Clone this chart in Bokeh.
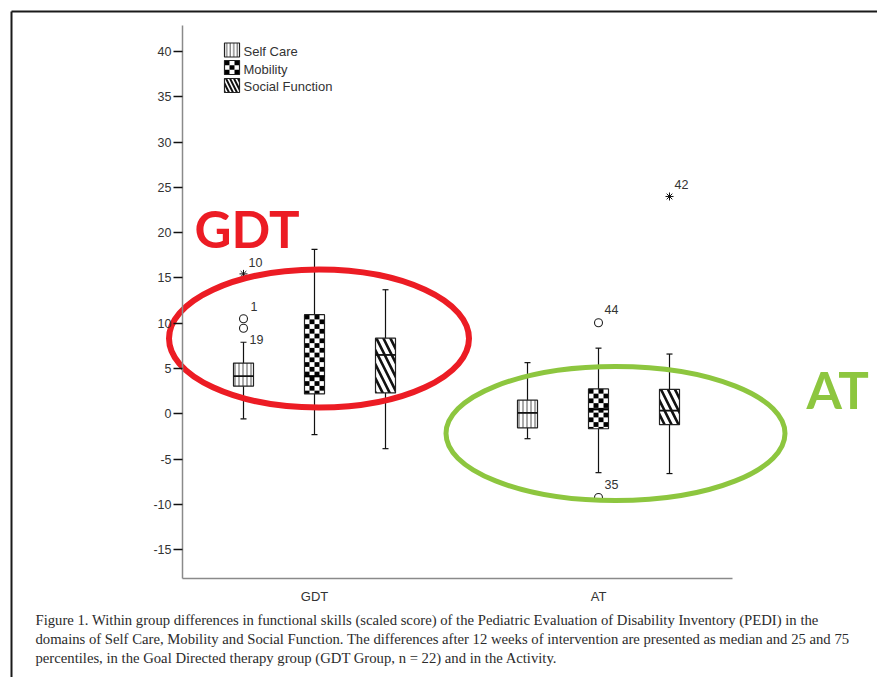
import numpy as np
from bokeh.plotting import figure
from bokeh.models import Range1d, LinearAxis, FixedTicker
from bokeh.core.properties import value
from bokeh.embed import file_html
from bokeh.resources import INLINE

# ---------------- data ----------------
groups = ["GDT", "AT"]
domains = ["Self Care", "Mobility", "Social Function"]

# change scores per group (rows) and domain (columns)
whisker_low = [[-0.55, -2.3, -3.85], [-2.75, -6.5, -6.6]]
quart_1 = [[3.05, 2.2, 2.3], [-1.55, -1.65, -1.2]]
medians = [[4.15, 4.15, 6.5], [0.1, 0.5, 0.35]]
quart_3 = [[5.6, 10.95, 8.35], [1.5, 2.75, 2.7]]
whisker_high = [[7.9, 18.15, 13.7], [5.65, 7.25, 6.6]]

# outliers (circles) and extremes (stars) with case numbers
outlier_group = ["GDT", "GDT", "AT", "AT"]
outlier_domain = ["Self Care", "Self Care", "Mobility", "Mobility"]
outlier_value = [10.5, 9.45, 10.05, -9.25]
outlier_case = ["1", "19", "44", "35"]

extreme_group = ["GDT", "AT"]
extreme_domain = ["Self Care", "Social Function"]
extreme_value = [15.45, 24.0]
extreme_case = ["10", "42"]

y_ticks = [-15, -10, -5, 0, 5, 10, 15, 20, 25, 30, 35, 40]

caption = [
    "Figure 1. Within group differences in functional skills (scaled score) of the Pediatric Evaluation of Disability Inventory (PEDI) in the",
    "domains of Self Care, Mobility and Social Function. The differences after 12 weeks of intervention are presented as median and 25 and 75",
    "percentiles, in the Goal Directed therapy group (GDT Group, n = 22) and in the Activity.",
]

# ---------------- page geometry ----------------
W, H = 877, 677
X0_PX, X_UNIT_PX = 314.0, 284.0     # group 1 centre and pixels per group step
Y0_PX, Y_UNIT_PX = 413.3, 9.055     # zero line and pixels per score point


def dx(px):
    return 1 + (px - X0_PX) / X_UNIT_PX


def dy(py):
    return (Y0_PX - py) / Y_UNIT_PX


RED = "#ec1c24"
GREEN = "#8dc63f"
INK = "#222222"
LABEL = "#333333"

p = figure(width=W, height=H,
           x_range=Range1d(dx(0), dx(W)), y_range=Range1d(dy(H), dy(0)),
           x_axis_type=None, y_axis_type=None,
           toolbar_location=None, output_backend="svg",
           min_border=0, outline_line_color=None)
p.background_fill_color = "white"
p.border_fill_color = "white"

# ---------------- axes ----------------
axis_left, axis_right = dx(182), dx(732)
axis_bottom, axis_top = dy(578), dy(25)

yaxis = LinearAxis(fixed_location=axis_left, bounds=(axis_bottom, axis_top),
                   ticker=FixedTicker(ticks=y_ticks),
                   major_label_overrides={t: str(t) for t in y_ticks},
                   axis_line_color="#8a8a8a", axis_line_width=1.5,
                   major_tick_out=9, major_tick_in=0,
                   minor_tick_out=0, minor_tick_in=0,
                   major_tick_line_color="#111111", major_tick_line_width=1.5,
                   major_label_standoff=2,
                   major_label_text_font="Liberation Sans",
                   major_label_text_font_size="12.5px",
                   major_label_text_color=LABEL)
p.add_layout(yaxis, "left")

xaxis = LinearAxis(fixed_location=axis_bottom, bounds=(axis_left, axis_right),
                   ticker=FixedTicker(ticks=[1, 2]),
                   major_label_overrides={1: groups[0], 2: groups[1]},
                   axis_line_color="#8a8a8a", axis_line_width=1.5,
                   major_tick_out=0, major_tick_in=0,
                   minor_tick_out=0, minor_tick_in=0,
                   major_label_standoff=10,
                   major_label_text_font="Liberation Sans",
                   major_label_text_font_size="13px",
                   major_label_text_color=LABEL)
p.add_layout(xaxis, "below")

# ---------------- box plots ----------------
offsets = {"Self Care": -0.25, "Mobility": 0.0, "Social Function": 0.25}
BOX_HALF = 10 / X_UNIT_PX
CAP_HALF = 3 / X_UNIT_PX


def xpos(group, domain):
    return groups.index(group) + 1 + offsets[domain]


rows = []
for gi, g in enumerate(groups):
    for di, d in enumerate(domains):
        rows.append(dict(x=xpos(g, d), dom=d, lo=whisker_low[gi][di], q1=quart_1[gi][di],
                         med=medians[gi][di], q3=quart_3[gi][di], hi=whisker_high[gi][di]))

xs = np.array([r["x"] for r in rows])
lo = np.array([r["lo"] for r in rows])
hi = np.array([r["hi"] for r in rows])

# whiskers and caps
p.segment(x0=xs, y0=lo, x1=xs, y1=hi, line_color="#111111", line_width=1.2)
p.segment(x0=xs - CAP_HALF, y0=hi, x1=xs + CAP_HALF, y1=hi, line_color="#111111", line_width=1.2)
p.segment(x0=xs - CAP_HALF, y0=lo, x1=xs + CAP_HALF, y1=lo, line_color="#111111", line_width=1.2)


def subset(domain):
    sel = [r for r in rows if r["dom"] == domain]
    return (np.array([r["x"] for r in sel]), np.array([r["q1"] for r in sel]),
            np.array([r["q3"] for r in sel]), np.array([r["med"] for r in sel]))


def checker(left, right, bottom, top, ncols, cell_h):
    """Black cells of a checkerboard filling the rectangle."""
    cw = (right - left) / ncols
    L, R, B, T = [], [], [], []
    nrows = int(np.ceil((top - bottom) / cell_h - 1e-9))
    for r in range(nrows):
        t = top - r * cell_h
        b = max(top - (r + 1) * cell_h, bottom)
        for c in range(ncols):
            if (r + c) % 2 == 0:
                L.append(left + c * cw)
                R.append(left + (c + 1) * cw)
                B.append(b)
                T.append(t)
    return L, R, B, T


# Self Care: vertical stripes
x, q1, q3, med = subset("Self Care")
p.quad(left=x - BOX_HALF, right=x + BOX_HALF, bottom=q1, top=q3,
       fill_color="white", line_color=INK, line_width=1.2,
       hatch_pattern="vertical_line", hatch_scale=4, hatch_weight=1, hatch_color="#555555")
p.segment(x0=x - BOX_HALF, y0=med, x1=x + BOX_HALF, y1=med, line_color="#111111", line_width=1.8)

# Mobility: checkerboard
x, q1, q3, med = subset("Mobility")
p.quad(left=x - BOX_HALF, right=x + BOX_HALF, bottom=q1, top=q3, fill_color="white", line_color=None)
cell_h = 4.75 / Y_UNIT_PX
for xi, b, t in zip(x, q1, q3):
    L, R, B, T = checker(xi - BOX_HALF, xi + BOX_HALF, b, t, 4, cell_h)
    p.quad(left=L, right=R, bottom=B, top=T, fill_color="black", line_color=None)
p.quad(left=x - BOX_HALF, right=x + BOX_HALF, bottom=q1, top=q3,
       fill_color=None, line_color=INK, line_width=1.2)
p.segment(x0=x - BOX_HALF, y0=med, x1=x + BOX_HALF, y1=med, line_color="black", line_width=2.2)

# Social Function: diagonal stripes
x, q1, q3, med = subset("Social Function")
p.quad(left=x - BOX_HALF, right=x + BOX_HALF, bottom=q1, top=q3,
       fill_color="white", line_color=INK, line_width=1.2,
       hatch_pattern="left_diagonal_line", hatch_scale=14, hatch_weight=2.6, hatch_color="#111111")
p.segment(x0=x - BOX_HALF, y0=med, x1=x + BOX_HALF, y1=med, line_color="#111111", line_width=1.8)

# ---------------- outliers ----------------
ox = [xpos(g, d) for g, d in zip(outlier_group, outlier_domain)]
p.scatter(x=ox, y=outlier_value, marker="circle", size=8,
          fill_color=None, line_color="#222222", line_width=1.1)
ex = [xpos(g, d) for g, d in zip(extreme_group, extreme_domain)]
p.scatter(x=ex, y=extreme_value, marker="asterisk", size=8,
          line_color="#111111", line_width=1.0)

outlier_dx = [7, 6, 6, 6]
outlier_dy = [-12, 11, -13, -13]
p.text(x=ox, y=outlier_value, text=outlier_case, x_offset=outlier_dx, y_offset=outlier_dy,
       text_font=value("Liberation Sans"), text_font_size="12.5px", text_color=LABEL,
       text_align="left", text_baseline="middle")
p.text(x=ex, y=extreme_value, text=extreme_case, x_offset=[5, 5], y_offset=[-11, -12],
       text_font=value("Liberation Sans"), text_font_size="12.5px", text_color=LABEL,
       text_align="left", text_baseline="middle")

# ---------------- legend ----------------
leg_x = dx(231.5)
leg_ys = [dy(49.5), dy(67), dy(85)]
sw_hw = 7.5 / X_UNIT_PX
sw_hh = 7 / Y_UNIT_PX
p.quad(left=[leg_x - sw_hw], right=[leg_x + sw_hw], bottom=[leg_ys[0] - sw_hh], top=[leg_ys[0] + sw_hh],
       fill_color="white", line_color=INK, line_width=1.2,
       hatch_pattern="vertical_line", hatch_scale=3.5, hatch_weight=1, hatch_color="#555555")
p.quad(left=[leg_x - sw_hw], right=[leg_x + sw_hw], bottom=[leg_ys[1] - sw_hh], top=[leg_ys[1] + sw_hh],
       fill_color="white", line_color=None)
L, R, B, T = checker(leg_x - sw_hw, leg_x + sw_hw, leg_ys[1] - sw_hh, leg_ys[1] + sw_hh, 3, 2 * sw_hh / 3)
p.quad(left=L, right=R, bottom=B, top=T, fill_color="black", line_color=None)
p.quad(left=[leg_x - sw_hw], right=[leg_x + sw_hw], bottom=[leg_ys[1] - sw_hh], top=[leg_ys[1] + sw_hh],
       fill_color=None, line_color=INK, line_width=1.2)
p.quad(left=[leg_x - sw_hw], right=[leg_x + sw_hw], bottom=[leg_ys[2] - sw_hh], top=[leg_ys[2] + sw_hh],
       fill_color="white", line_color=INK, line_width=1.2,
       hatch_pattern="left_diagonal_line", hatch_scale=8, hatch_weight=2, hatch_color="#111111")
p.text(x=[dx(243)] * 3, y=[dy(50.5), dy(68.5), dy(85.5)], text=domains,
       text_font=value("Liberation Sans"), text_font_size="13px", text_color=LABEL,
       text_align="left", text_baseline="middle")

# ---------------- group highlights ----------------
p.ellipse(x=[dx(318.5)], y=[dy(338)], width=[300], height=[138],
          width_units="screen", height_units="screen",
          fill_color=None, line_color=RED, line_width=6)
p.ellipse(x=[dx(615)], y=[dy(433)], width=[339], height=[134],
          width_units="screen", height_units="screen",
          fill_color=None, line_color=GREEN, line_width=5)
p.text(x=[dx(194)], y=[dy(228)], text=["GDT"], text_font=value("Lato"), text_font_style="bold",
       text_font_size="51px", text_color=RED, text_align="left", text_baseline="alphabetic")
p.text(x=[dx(806)], y=[dy(389)], text=["AT"], text_font=value("Lato"), text_font_style="bold",
       text_font_size="51px", text_color=GREEN, text_align="left", text_baseline="alphabetic")

# ---------------- caption and page frame ----------------
p.text(x=[dx(35)] * 3, y=[dy(619), dy(638), dy(657)], text=caption,
       text_font=value("Liberation Serif"), text_font_size="14.7px", text_color="#2b2b2b",
       text_align="left", text_baseline="middle")
p.segment(x0=[dx(11), dx(11)], y0=[dy(11), dy(11)], x1=[dx(W), dx(11)], y1=[dy(11), dy(H)],
          line_color="#1a1a1a", line_width=2)

open("out.html", "w").write(file_html(p, INLINE))
